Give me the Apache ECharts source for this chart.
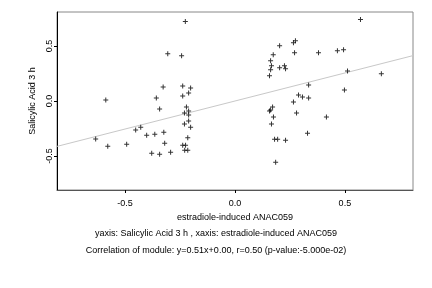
<!DOCTYPE html>
<html>
<head>
<meta charset="utf-8">
<script src="https://cdn.jsdelivr.net/npm/echarts@6/dist/echarts.min.js"></script>
<style>
  html, body { margin: 0; padding: 0; background: #fff; }
  #chart { width: 432px; height: 288px; }
</style>
</head>
<body>
<div id="chart"></div>
<script>
// x: estradiole-induced ANAC059, y: Salicylic Acid 3 h
var xVals = [
  -0.226, -0.306, -0.243, -0.238, -0.327, -0.202, -0.588, -0.358, -0.238, -0.211,
  -0.343, -0.221, -0.211, -0.230, -0.211, -0.211, -0.230, -0.202, -0.429, -0.452,
  -0.324, -0.365, -0.402, -0.215, -0.634, -0.579, -0.493, -0.320, -0.238, -0.225,
  -0.229, -0.215, -0.379, -0.343, -0.293,
  0.571, 0.275, 0.266, 0.203, 0.174, 0.271, 0.380, 0.466, 0.494, 0.162,
  0.166, 0.162, 0.203, 0.225, 0.230, 0.157, 0.512, 0.666, 0.335, 0.498,
  0.289, 0.307, 0.335, 0.266, 0.171, 0.162, 0.157, 0.280, 0.416, 0.175,
  0.166, 0.180, 0.194, 0.230, 0.330, 0.185
];
var yVals = [
  0.723, 0.430, 0.412, 0.137, 0.128, 0.119, 0.009, 0.027, 0.046, 0.073,
  -0.073, -0.055, -0.091, -0.110, -0.128, -0.183, -0.210, -0.238, -0.238, -0.265,
  -0.284, -0.302, -0.311, -0.335, -0.345, -0.412, -0.393, -0.384, -0.403, -0.403,
  -0.448, -0.448, -0.476, -0.485, -0.467,
  0.741, 0.549, 0.531, 0.503, 0.421, 0.439, 0.439, 0.457, 0.467, 0.366,
  0.320, 0.284, 0.302, 0.320, 0.293, 0.229, 0.274, 0.247, 0.146, 0.101,
  0.055, 0.037, 0.027, -0.009, -0.055, -0.082, -0.091, -0.110, -0.146, -0.146,
  -0.210, -0.348, -0.348, -0.357, -0.293, -0.558
];
// fitted line end points (y = 0.51x + 0.00)
var fitX = [-0.81, 0.81];
var fitY = [-0.413, 0.413];
var tickVals = [-0.5, 0, 0.5];

var points = xVals.map(function (x, i) { return [x, yVals[i]]; });
var fitLine = fitX.map(function (x, i) { return [x, fitY[i]]; });

var font = 'Liberation Sans, Arial, sans-serif';
var plusPath = 'path://M2,0H3V2H5V3H3V5H2V3H0V2H2Z';

var chart = echarts.init(document.getElementById('chart'), null, { renderer: 'canvas' });
var option = {
    animation: false,
    backgroundColor: '#fff',
    title: [
        {
            text: 'yaxis: Salicylic Acid 3 h , xaxis: estradiole-induced ANAC059',
            left: 'center', top: 224,
            textStyle: { fontFamily: font, fontSize: 9, fontWeight: 'normal', color: '#000' }
        },
        {
            text: 'Correlation of module: y=0.51x+0.00, r=0.50 (p-value:-5.000e-02)',
            left: 'center', top: 241,
            textStyle: { fontFamily: font, fontSize: 9, fontWeight: 'normal', color: '#000' }
        }
    ],
    grid: {
        left: 57, right: 19, top: 12, bottom: 98,
        show: true, borderColor: '#888', borderWidth: 1
    },
    xAxis: {
        type: 'value',
        min: -0.81, max: 0.81,
        name: 'estradiole-induced ANAC059',
        nameLocation: 'middle',
        nameGap: 23,
        nameTextStyle: { fontFamily: font, fontSize: 9, color: '#000' },
        axisLine: { show: true, onZero: false, lineStyle: { color: '#555' } },
        axisTick: { show: true, length: 3, customValues: tickVals, lineStyle: { color: '#000' } },
        axisLabel: {
            customValues: tickVals, margin: 9,
            fontFamily: font, fontSize: 9, color: '#000',
            formatter: function (v) { return v.toFixed(1); }
        },
        splitLine: { show: false }
    },
    yAxis: {
        type: 'value',
        min: -0.81, max: 0.81,
        name: 'Salicylic Acid 3 h',
        nameLocation: 'middle',
        nameRotate: 90,
        nameGap: 17,
        nameTextStyle: { fontFamily: font, fontSize: 9, color: '#000' },
        axisLine: { show: true, onZero: false, lineStyle: { color: '#000' } },
        axisTick: { show: true, length: 3, customValues: tickVals, lineStyle: { color: '#000' } },
        axisLabel: {
            customValues: tickVals, rotate: 90, margin: 3,
            fontFamily: font, fontSize: 9, color: '#000',
            formatter: function (v) { return v.toFixed(1); }
        },
        splitLine: { show: false }
    },
    series: [
        {
            type: 'line',
            data: fitLine,
            symbol: 'none',
            lineStyle: { color: '#c8c8c8', width: 1 },
            z: 1
        },
        {
            type: 'scatter',
            data: points,
            symbol: plusPath,
            symbolSize: 5,
            itemStyle: { color: '#000' },
            z: 2
        }
    ]
};
chart.setOption(option);
</script>
</body>
</html>
